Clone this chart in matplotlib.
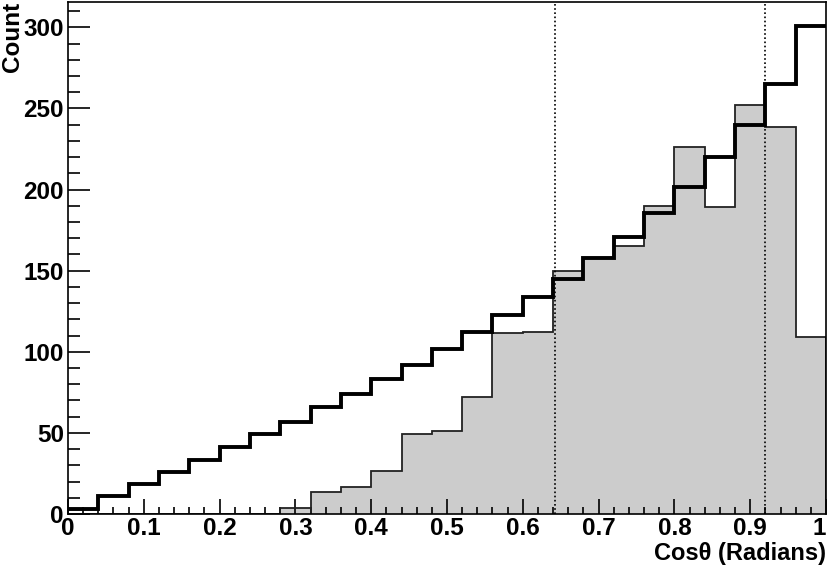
import numpy as np
import matplotlib
matplotlib.use('Agg')
import matplotlib.pyplot as plt
from matplotlib.ticker import MultipleLocator, FuncFormatter

plt.rcParams['font.family'] = ['Liberation Sans', 'DejaVu Sans']
plt.rcParams['font.weight'] = 'bold'

# 25 bins over cos(theta) in [0, 1]
bin_lo = 0.0
bin_hi = 1.0
n_bins = 25

# filled (grey) histogram
grey_counts = [0, 0, 0, 0, 0, 0, 0, 3.5, 13.8, 16.7, 26.7, 49.6, 51.4, 72,
               111.5, 112, 149.6, 158, 165, 189.7, 226, 189, 252, 238.5, 109]
# thick black outline histogram
black_counts = [3, 11, 18.5, 26, 33.5, 41.5, 49.4, 57, 66, 74, 83, 92, 102, 112,
                122.6, 133.7, 145, 158, 171, 185.6, 201.6, 219.8, 240, 265, 301]
# dotted markers
cut_lines = [0.642, 0.92]

edges = np.linspace(bin_lo, bin_hi, n_bins + 1)

fig = plt.figure(figsize=(8.3, 5.69), dpi=100)
ax = fig.add_axes([68/830, 55/569, 758/830, 512/569])

ax.stairs(grey_counts, edges, fill=True, color='#cccccc', baseline=0, zorder=1)
ax.stairs(grey_counts, edges, fill=False, color='#222222', linewidth=1.3, baseline=0, zorder=2)
ax.stairs(black_counts, edges, fill=False, color='black', linewidth=2.8, baseline=None, zorder=3)

for xc in cut_lines:
    ax.axvline(xc, color='black', linestyle=(0, (1, 1.5)), linewidth=1.2, zorder=4)

ax.set_xlim(0, 1)
ax.set_ylim(0, 315.6)

ax.xaxis.set_major_locator(MultipleLocator(0.1))
ax.xaxis.set_minor_locator(MultipleLocator(0.02))
ax.yaxis.set_major_locator(MultipleLocator(50))
ax.yaxis.set_minor_locator(MultipleLocator(10))
ax.xaxis.set_major_formatter(FuncFormatter(lambda v, p: '%g' % round(v, 2)))

ax.tick_params(axis='both', which='both', direction='in', top=False, right=False,
               labelsize=17.5, width=1.2)
ax.tick_params(axis='x', which='major', length=10.6, pad=2)
ax.tick_params(axis='x', which='minor', length=5.3)
ax.tick_params(axis='y', which='major', length=15.8, pad=3)
ax.tick_params(axis='y', which='minor', length=8.3)

for s in ax.spines.values():
    s.set_linewidth(1.2)

ax.set_xlabel('Cosθ (Radians)', fontsize=17, fontweight='bold', loc='right')
ax.set_ylabel('Count', fontsize=17.5, fontweight='bold', loc='top')
ax.xaxis.set_label_coords(1.0, -0.054)
ax.yaxis.set_label_coords(-0.058, 1.0)

# keep the "1" at the right end inside the canvas
fig.canvas.draw()
for t in ax.xaxis.get_major_ticks():
    if abs(t.get_loc() - 1.0) < 1e-6:
        t.label1.set_horizontalalignment('right')

fig.savefig('out.png', dpi=100)
